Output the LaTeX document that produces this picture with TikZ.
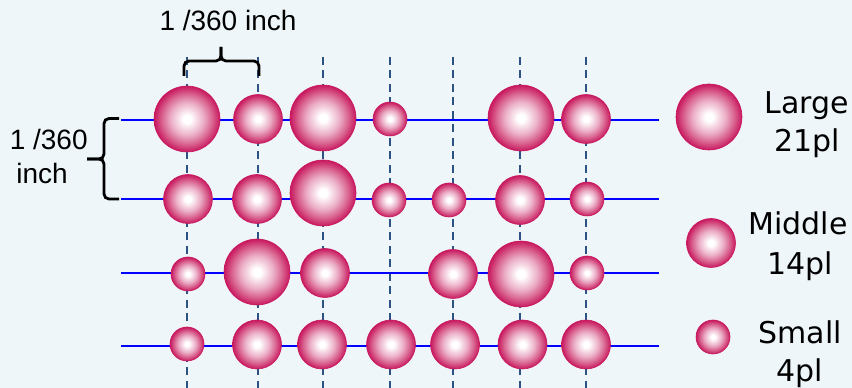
\documentclass[tikz,border=0pt]{standalone}
\usepackage{fontspec}
\setmainfont{Liberation Sans}
\newfontfamily\legfont{DejaVu Sans}
\definecolor{bgc}{HTML}{EEF6FA}
\definecolor{dropc}{HTML}{C8185F}
\definecolor{dropm}{HTML}{EBAEC6}
\definecolor{dropn}{HTML}{D9648F}
\definecolor{dashc}{HTML}{2B5282}
\definecolor{linec}{HTML}{0000FF}
\pgfdeclareradialshading{dropshade}{\pgfpoint{0bp}{0bp}}{color(0bp)=(white); color(3bp)=(white); color(12.5bp)=(dropm); color(19bp)=(dropn); color(25bp)=(dropc); color(50bp)=(dropc)}
\begin{document}
\begin{tikzpicture}[x=1pt,y=1pt,
  drop/.style={circle, inner sep=0pt, shade, shading=dropshade, draw=dropc, line width=0.6pt},
  bigdrop/.style={drop, minimum size=66pt},
  middrop/.style={drop, minimum size=49pt},
  smldrop/.style={drop, minimum size=34pt},
  gridv/.style={draw=dashc, line width=2pt, dash pattern=on 8pt off 5.5pt},
  gridh/.style={draw=linec, line width=1.9pt},
  bracestyle/.style={draw=black, line width=2.8pt, rounded corners=5pt},
  dimlabel/.style={font=\fontsize{28}{30}\selectfont, anchor=base, inner sep=0pt},
  leglabel/.style={font=\legfont\fontsize{30}{32}\selectfont, anchor=base, inner sep=0pt}]
\useasboundingbox (0,0) rectangle (852,388);
\fill[bgc] (0,0) rectangle (852,388);
% vertical dashed lines
\foreach \n/\x in {1/187,2/258,3/323,4/390,5/453,6/520,7/586}{
  \coordinate (vt\n) at (\x,331);
  \coordinate (vb\n) at (\x,0);
  \draw[gridv] (vt\n) -- (vb\n);
}
% horizontal lines
\foreach \n/\y in {1/268,2/189,3/115,4/42}{
  \coordinate (hl\n) at (121,\y);
  \coordinate (hr\n) at (659,\y);
  \draw[gridh] (hl\n) -- (hr\n);
}
% row 1
\node[bigdrop] (a1) at (187,269) {};
\node[middrop] (a2) at (258,269) {};
\node[bigdrop] (a3) at (323,270) {};
\node[smldrop] (a4) at (390,269) {};
\node[bigdrop] (a6) at (521,270) {};
\node[middrop] (a7) at (586,269) {};
% row 2
\node[middrop] (b1) at (188,189) {};
\node[middrop] (b2) at (257,189) {};
\node[bigdrop] (b3) at (323,195) {};
\node[smldrop] (b4) at (389,188) {};
\node[smldrop] (b5) at (449,188) {};
\node[middrop] (b6) at (520,188) {};
\node[smldrop] (b7) at (587,189) {};
% row 3
\node[smldrop] (c1) at (188,114) {};
\node[bigdrop] (c2) at (257,116) {};
\node[middrop] (c3) at (325,115) {};
\node[middrop] (c5) at (453,114) {};
\node[bigdrop] (c6) at (521,114) {};
\node[smldrop] (c7) at (587,115) {};
% row 4
\node[smldrop] (d1) at (187,44) {};
\node[middrop] (d2) at (257,43.5) {};
\node[middrop] (d3) at (322,43.5) {};
\node[middrop] (d4) at (391,43.5) {};
\node[middrop] (d5) at (455,43.5) {};
\node[middrop] (d6) at (522.5,43.5) {};
\node[middrop] (d7) at (586,43.5) {};
% legend
\node[bigdrop] (lgL) at (709,271) {};
\node[middrop] (lgM) at (711,145) {};
\node[smldrop] (lgS) at (713,51) {};
\node[leglabel] (tL1) at (807,274.7) {Large};
\node[leglabel] (tL2) at (807.5,236) {21pl};
\node[leglabel] (tM1) at (798,153) {Middle};
\node[leglabel] (tM2) at (800,113) {14pl};
\node[leglabel] (tS1) at (800,44) {Small};
\node[leglabel] (tS2) at (800,6) {4pl};
% dimension labels
\node[dimlabel] (toplab) at (228,357.3) {1 /360 inch};
\node[dimlabel] (leftlab1) at (48.7,238.7) {1 /360};
\node[dimlabel] (leftlab2) at (42,204.7) {inch};
% top brace
\coordinate (tbl) at (184,312);
\coordinate (tbr) at (259,312);
\coordinate (tbm) at (221,327);
\coordinate (tbt) at (221,341);
\draw[bracestyle] (tbl) |- (tbm) -- (tbt);
\draw[bracestyle] (tbr) |- (tbm) -- (tbt);
% left brace
\coordinate (lbt) at (119,269.5);
\coordinate (lbb) at (119,189);
\coordinate (lbm) at (104,229);
\coordinate (lbp) at (87,229);
\draw[bracestyle] (lbt) -| (lbm) -- (lbp);
\draw[bracestyle] (lbb) -| (lbm) -- (lbp);
\end{tikzpicture}
\end{document}
